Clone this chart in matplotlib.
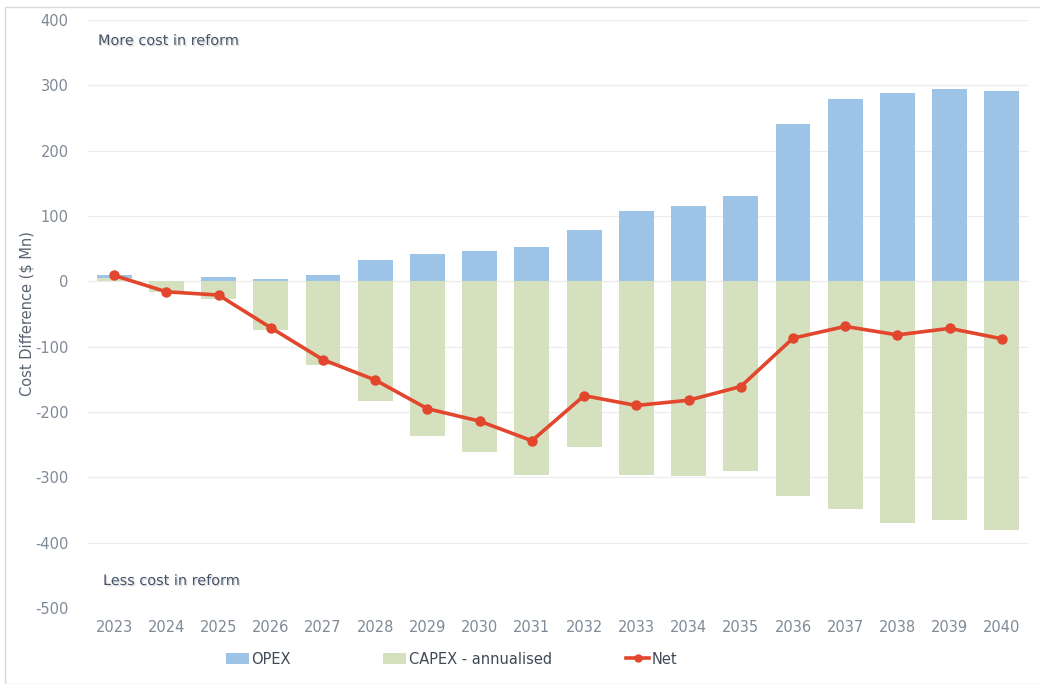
import matplotlib
matplotlib.use("Agg")
import matplotlib.pyplot as plt
import matplotlib.patheffects as pe
from matplotlib.patches import Rectangle, Patch
from matplotlib.lines import Line2D
import numpy as np

years = ["2023", "2024", "2025", "2026", "2027", "2028", "2029", "2030", "2031",
         "2032", "2033", "2034", "2035", "2036", "2037", "2038", "2039", "2040"]
opex = [4, 1, 6, 4, 9, 32, 42, 47, 53, 78, 107, 116, 130, 241, 279, 288, 294, 292]
capex = [5, -17, -27, -75, -128, -183, -237, -261, -297, -253, -297, -298, -291,
         -328, -348, -370, -366, -380]
net = [9, -16, -21, -71, -120, -151, -195, -214, -244, -175, -190, -182, -161,
       -87, -69, -82, -72, -88]

c_opex = "#9DC3E6"
c_capex = "#D5E0BE"
c_net = "#E2462D"
c_tick = "#7F8A96"
c_note = "#44546A"

plt.rcParams["font.family"] = ["DejaVu Sans"]
plt.rcParams["axes.unicode_minus"] = False

W, H = 1040, 684
fig = plt.figure(figsize=(W / 100, H / 100), dpi=100)
ax = fig.add_axes([88 / W, 1 - 608 / H, (1028 - 88) / W, (608 - 20) / H])

x = np.arange(len(years))
capex_arr = np.array(capex, dtype=float)
opex_arr = np.array(opex, dtype=float)
w = 0.67
ax.bar(x, capex_arr, width=w, color=c_capex, zorder=2)
ax.bar(x, opex_arr, width=w, bottom=np.maximum(capex_arr, 0), color=c_opex, zorder=2)
ax.plot(x, net, color=c_net, lw=2.6, marker="o", ms=6.5, zorder=3)

ax.set_xlim(-0.5, len(years) - 0.5)
ax.set_ylim(-500, 400)
ax.set_yticks(np.arange(-500, 401, 100))
ax.set_xticks(x)
ax.set_xticklabels(years)
ax.grid(axis="y", color="#ECECEC", lw=0.9, zorder=0)
ax.set_axisbelow(True)
for s in ax.spines.values():
    s.set_visible(False)
ax.tick_params(axis="both", length=0, labelsize=10.5, colors=c_tick)
ax.tick_params(axis="x", pad=9)
ax.tick_params(axis="y", pad=14)
ax.set_ylabel("Cost Difference ($ Mn)", fontsize=10.5, color="#5A6470")
ax.yaxis.set_label_coords((35 - 88) / (1028 - 88), 0.5)

shadow = [pe.withSimplePatchShadow(offset=(1, -1), shadow_rgbFace="#9A9A9A", alpha=0.35)]
notes = [("More cost in reform", 98, 41), ("Less cost in reform", 103, 581)]
for label, px, py in notes:
    fig.text(px / W, 1 - py / H, label, fontsize=10.4, color=c_note,
             va="center", ha="left", path_effects=shadow)

# legend entries spread along the bottom
entries = [
    (Patch(facecolor=c_opex, edgecolor="none"), "OPEX", 226),
    (Patch(facecolor=c_capex, edgecolor="none"), "CAPEX - annualised", 383),
    (Line2D([], [], color=c_net, lw=2.6, marker="o", ms=5), "Net", 626),
]
for handle, label, px in entries:
    fig.legend([handle], [label], loc="center left",
               bbox_to_anchor=(px / W, 1 - 659 / H), frameon=False,
               fontsize=10.5, labelcolor="#3F4A55", handlelength=1.6,
               handleheight=0.7, handletextpad=0.15, borderpad=0, borderaxespad=0)

fig.patches.append(Rectangle((5 / W, 0), 1.2, 1 - 7 / H, transform=fig.transFigure,
                             fill=False, edgecolor="#D9D9D9", lw=1.0))

fig.savefig("out.png", dpi=100, facecolor="white")
